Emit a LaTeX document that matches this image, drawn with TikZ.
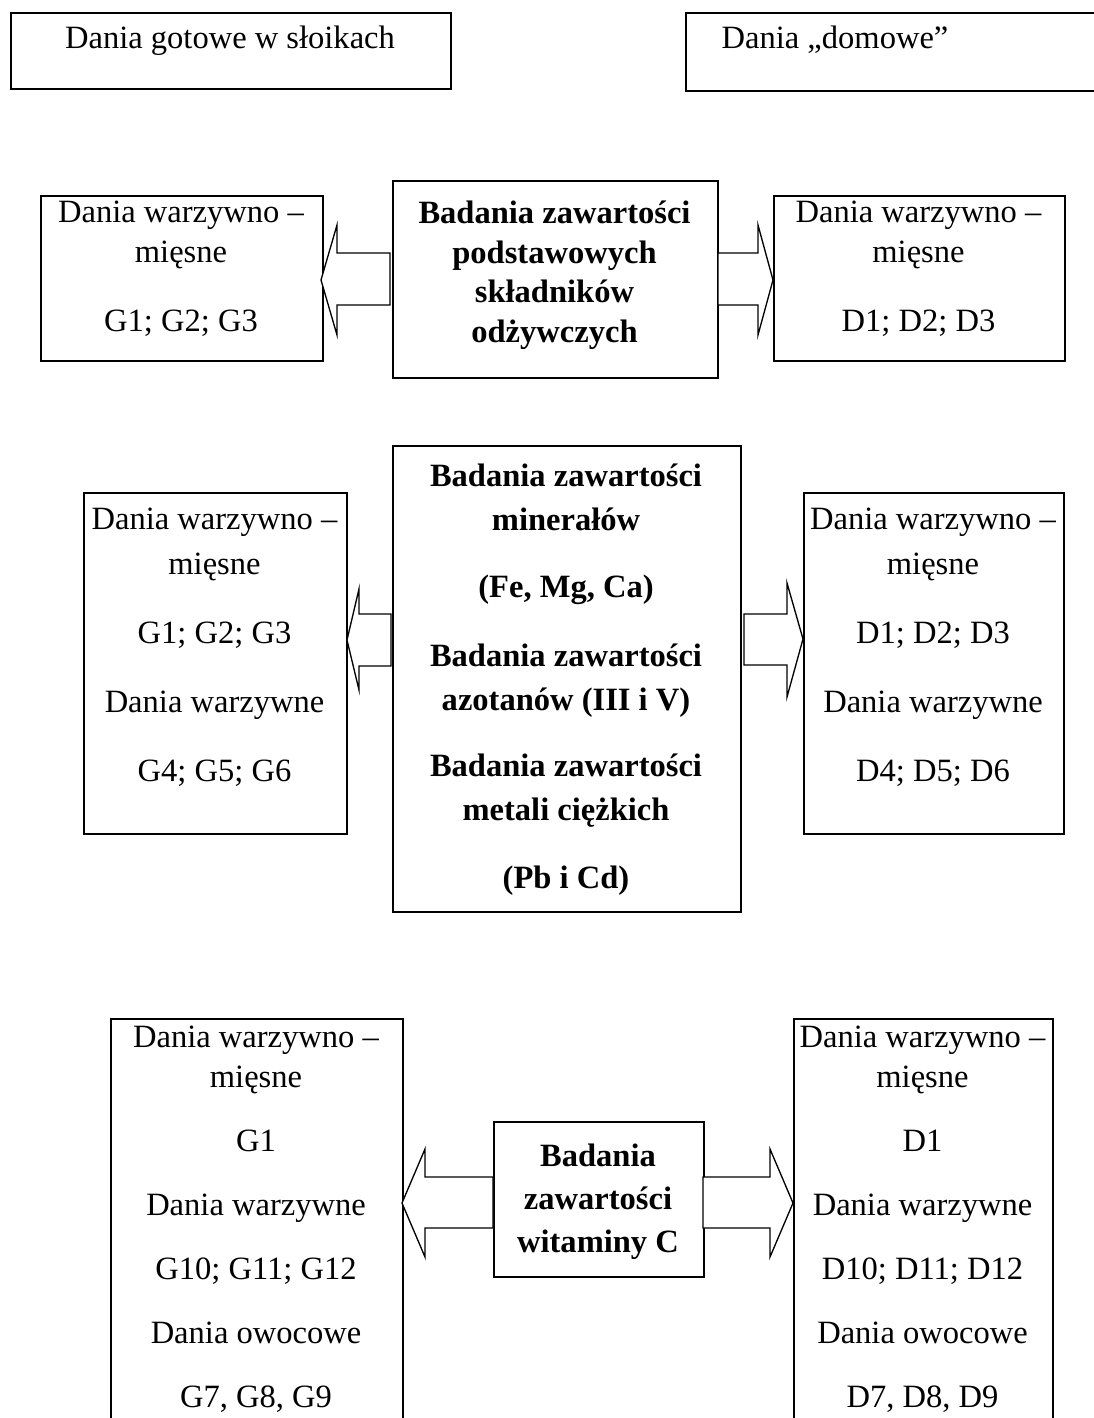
\documentclass[tikz,border=0pt]{standalone}
\usepackage{fontspec}
\setmainfont{Liberation Serif}
\begin{document}
\begin{tikzpicture}[x=0.75pt,y=-0.75pt,
  box/.style={draw=black, line width=1.4pt, inner sep=0pt, anchor=north west},
  arr/.style={draw=black, line width=1.0pt, line join=miter, fill=white},
  txt/.style={inner sep=0pt, anchor=base, font=\fontsize{24.4}{28}\selectfont},
  btxt/.style={txt, font=\fontsize{24.4}{28}\selectfont\bfseries}]
\useasboundingbox (0,0) rectangle (1094,1418);
% row 1
\node[box, minimum width=330pt, minimum height=57pt] (tl) at (10,12) {};
\node[box, minimum width=318.75pt, minimum height=58.5pt] (tr) at (685,12) {};
\node[txt] (tlt) at (230,48) {Dania gotowe w słoikach};
\node[txt] (trt) at (835,48) {Dania „domowe”};
% row 2
\node[box, minimum width=211.5pt, minimum height=123.75pt] (r2l) at (40,195) {};
\node[box, minimum width=243.75pt, minimum height=147.75pt] (r2c) at (392,180) {};
\node[box, minimum width=218.25pt, minimum height=123.75pt] (r2r) at (773,195) {};
\node[txt] (r2la) at (181,222) {Dania warzywno –};
\node[txt] (r2lb) at (181,262) {mięsne};
\node[txt] (r2lc) at (181,331) {G1; G2; G3};
\node[btxt] (r2ca) at (554.5,223) {Badania zawartości};
\node[btxt] (r2cb) at (554.5,263) {podstawowych};
\node[btxt] (r2cc) at (554.5,302) {składników};
\node[btxt] (r2cd) at (554.5,342) {odżywczych};
\node[txt] (r2ra) at (918.5,222) {Dania warzywno –};
\node[txt] (r2rb) at (918.5,262) {mięsne};
\node[txt] (r2rc) at (918.5,331) {D1; D2; D3};
\draw[arr] (321,280) -- (337,225) -- (337,253) -- (390,253) -- (390,305) -- (337,305) -- (337,335) -- cycle;
\draw[arr] (773,280) -- (758,225) -- (758,253) -- (718,253) -- (718,305) -- (758,305) -- (758,335) -- cycle;
% row 3
\node[box, minimum width=197.25pt, minimum height=255.75pt] (r3l) at (83,492) {};
\node[box, minimum width=261pt, minimum height=349.5pt] (r3c) at (392,445) {};
\node[box, minimum width=195pt, minimum height=255.75pt] (r3r) at (803,492) {};
\node[txt] (r3la) at (214.5,529) {Dania warzywno –};
\node[txt] (r3lb) at (214.5,574) {mięsne};
\node[txt] (r3lc) at (214.5,643) {G1; G2; G3};
\node[txt] (r3ld) at (214.5,712) {Dania warzywne};
\node[txt] (r3le) at (214.5,781) {G4; G5; G6};
\node[btxt] (r3ca) at (566,486) {Badania zawartości};
\node[btxt] (r3cb) at (566,530) {minerałów};
\node[btxt] (r3cc) at (566,597) {(Fe, Mg, Ca)};
\node[btxt] (r3cd) at (566,666) {Badania zawartości};
\node[btxt] (r3ce) at (566,710) {azotanów (III i V)};
\node[btxt] (r3cf) at (566,776) {Badania zawartości};
\node[btxt] (r3cg) at (566,820) {metali ciężkich};
\node[btxt] (r3ch) at (566,888) {(Pb i Cd)};
\node[txt] (r3ra) at (933,529) {Dania warzywno –};
\node[txt] (r3rb) at (933,574) {mięsne};
\node[txt] (r3rc) at (933,643) {D1; D2; D3};
\node[txt] (r3rd) at (933,712) {Dania warzywne};
\node[txt] (r3re) at (933,781) {D4; D5; D6};
\draw[arr] (347,640) -- (359,589) -- (359,614) -- (391,614) -- (391,666) -- (359,666) -- (359,690) -- cycle;
\draw[arr] (803,639) -- (787,583) -- (787,614) -- (744,614) -- (744,665) -- (787,665) -- (787,697) -- cycle;
% row 4
\node[box, minimum width=219pt, minimum height=324pt] (r4l) at (110,1018) {};
\node[box, minimum width=157.5pt, minimum height=116.25pt] (r4c) at (493,1121) {};
\node[box, minimum width=194.25pt, minimum height=324pt] (r4r) at (793,1018) {};
\node[txt] (r4la) at (256,1047) {Dania warzywno –};
\node[txt] (r4lb) at (256,1087) {mięsne};
\node[txt] (r4lc) at (256,1151) {G1};
\node[txt] (r4ld) at (256,1215) {Dania warzywne};
\node[txt] (r4le) at (256,1279) {G10; G11; G12};
\node[txt] (r4lf) at (256,1343) {Dania owocowe};
\node[txt] (r4lg) at (256,1407) {G7, G8, G9};
\node[btxt] (r4ca) at (598,1166) {Badania};
\node[btxt] (r4cb) at (598,1209) {zawartości};
\node[btxt] (r4cc) at (598,1252) {witaminy C};
\node[txt] (r4ra) at (922.5,1047) {Dania warzywno –};
\node[txt] (r4rb) at (922.5,1087) {mięsne};
\node[txt] (r4rc) at (922.5,1151) {D1};
\node[txt] (r4rd) at (922.5,1215) {Dania warzywne};
\node[txt] (r4re) at (922.5,1279) {D10; D11; D12};
\node[txt] (r4rf) at (922.5,1343) {Dania owocowe};
\node[txt] (r4rg) at (922.5,1407) {D7, D8, D9};
\draw[arr] (402,1203) -- (425,1149) -- (425,1177) -- (493,1177) -- (493,1228) -- (425,1228) -- (425,1257) -- cycle;
\draw[arr] (793,1203) -- (770,1149) -- (770,1177) -- (703,1177) -- (703,1228) -- (770,1228) -- (770,1257) -- cycle;
\end{tikzpicture}
\end{document}
